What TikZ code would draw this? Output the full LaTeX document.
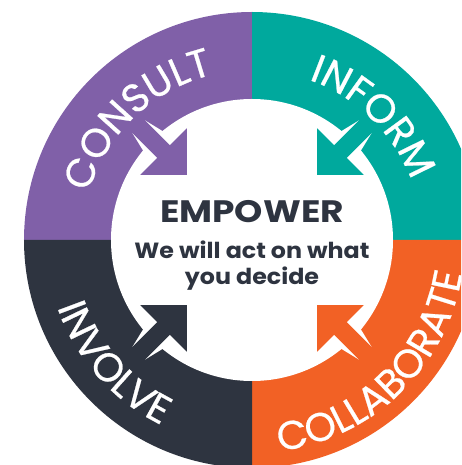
\documentclass[tikz,border=0pt]{standalone}
\usepackage{fontspec}
\setmainfont{Poppins}
\newfontfamily\ringfamily[LetterSpace=11, FakeBold=0.6]{Poppins}
\usetikzlibrary{decorations.text, positioning}

\definecolor{consultpurple}{HTML}{8060A8}
\definecolor{informteal}{HTML}{00A99D}
\definecolor{collaborateorange}{HTML}{F26125}
\definecolor{involvedark}{HTML}{2E3440}
\newcommand{\ringfont}{\ringfamily\fontsize{40}{40}\selectfont}

\begin{document}
\begin{tikzpicture}[x=1pt, y=1pt]
  % Define styles
  \tikzstyle{ringtext} = [decorate, decoration={text along path, text align=center, text color=white}]
  \tikzstyle{halo} = [fill=white]
  \tikzstyle{title} = [text=involvedark, font=\fontsize{31}{31}\selectfont\bfseries, inner sep=0pt, anchor=base, xscale=1.16, transform shape]
  \tikzstyle{subtitle} = [text=involvedark, font=\fontsize{22}{22}\selectfont\bfseries, inner sep=0pt, anchor=base, xscale=1.08, transform shape]

  \useasboundingbox (-252,-225) rectangle (209,240);
  \clip (-252,-225) rectangle (209,240);

  % Draw ring
  \fill[consultpurple] (0,0) -- (180:228) arc[start angle=180, end angle=90, radius=228] -- cycle;
  \fill[informteal] (0,0) -- (90:228) arc[start angle=90, end angle=0, radius=228] -- cycle;
  \fill[collaborateorange] (0,0) -- (0:228) arc[start angle=0, end angle=-90, radius=228] -- cycle;
  \fill[involvedark] (0,0) -- (-90:228) arc[start angle=-90, end angle=-180, radius=228] -- cycle;
  \fill[white] (0,0) circle[radius=141];

  % Draw arrows
  \begin{scope}[rotate=135]
    \fill[halo] (88,0) -- (127,39) -- (127,17) -- (160,9) -- (160,-9) -- (127,-17) -- (127,-39) -- cycle;
    \fill[consultpurple] (92,0) -- (125,33) -- (125,9) -- (180,9) -- (180,-9) -- (125,-9) -- (125,-33) -- cycle;
  \end{scope}
  \begin{scope}[rotate=45]
    \fill[halo] (88,0) -- (127,39) -- (127,17) -- (160,9) -- (160,-9) -- (127,-17) -- (127,-39) -- cycle;
    \fill[informteal] (92,0) -- (125,33) -- (125,9) -- (180,9) -- (180,-9) -- (125,-9) -- (125,-33) -- cycle;
  \end{scope}
  \begin{scope}[rotate=-45]
    \fill[halo] (88,0) -- (127,39) -- (127,17) -- (160,9) -- (160,-9) -- (127,-17) -- (127,-39) -- cycle;
    \fill[collaborateorange] (92,0) -- (125,33) -- (125,9) -- (180,9) -- (180,-9) -- (125,-9) -- (125,-33) -- cycle;
  \end{scope}
  \begin{scope}[rotate=225]
    \fill[halo] (88,0) -- (127,39) -- (127,17) -- (160,9) -- (160,-9) -- (127,-17) -- (127,-39) -- cycle;
    \fill[involvedark] (92,0) -- (125,33) -- (125,9) -- (180,9) -- (180,-9) -- (125,-9) -- (125,-33) -- cycle;
  \end{scope}

  % Ring labels
  \path[ringtext, decoration={text={|\ringfont|CONSULT}}] (184:170) arc[start angle=184, end angle=83, radius=170];
  \path[ringtext, decoration={text={|\ringfont|INFORM}}] (97:170) arc[start angle=97, end angle=-6, radius=170];
  \path[ringtext, decoration={text={|\ringfont|COLLABORATE}}] (-115:213) arc[start angle=-115, end angle=23.5, radius=213];
  \path[ringtext, decoration={text={|\ringfont|INVOLVE}}] (162:206) arc[start angle=162, end angle=281, radius=206];

  % Place nodes
  \node[title] (empower) at (0,17) {EMPOWER};
  \node[subtitle] (act) at (0,-19) {We will act on what};
  \node[subtitle] (decide) at (0,-45) {you decide};
\end{tikzpicture}
\end{document}
